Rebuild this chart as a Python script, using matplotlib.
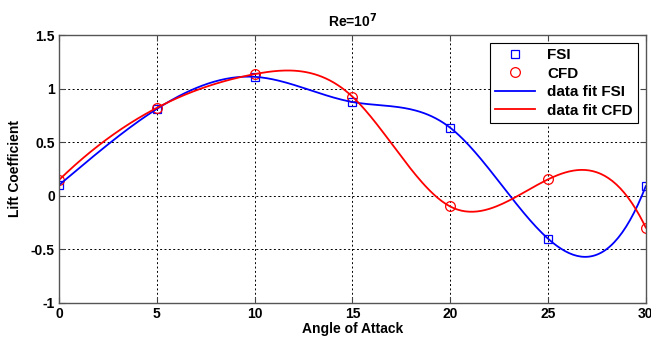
import numpy as np
import matplotlib
matplotlib.use("Agg")
import matplotlib.pyplot as plt

# angle of attack (deg) and lift coefficients
angle = [0, 5, 10, 15, 20, 25, 30]
cl_fsi = [0.10, 0.81, 1.11, 0.875, 0.635, -0.40, 0.09]
cl_cfd = [0.147, 0.82, 1.135, 0.925, -0.10, 0.153, -0.297]


def spline_not_a_knot(x, y, xq):
    """Cubic spline with not-a-knot ends (like MATLAB spline)."""
    x = np.asarray(x, float)
    y = np.asarray(y, float)
    n = len(x)
    h = np.diff(x)
    A = np.zeros((n, n))
    b = np.zeros(n)
    # interior continuity of second derivative -> equations on M (second derivs)
    for i in range(1, n - 1):
        A[i, i - 1] = h[i - 1]
        A[i, i] = 2 * (h[i - 1] + h[i])
        A[i, i + 1] = h[i]
        b[i] = 6 * ((y[i + 1] - y[i]) / h[i] - (y[i] - y[i - 1]) / h[i - 1])
    # not-a-knot: third derivative continuous at x[1] and x[n-2]
    A[0, 0] = h[1]
    A[0, 1] = -(h[0] + h[1])
    A[0, 2] = h[0]
    A[-1, -3] = h[-1]
    A[-1, -2] = -(h[-2] + h[-1])
    A[-1, -1] = h[-2]
    M = np.linalg.solve(A, b)

    idx = np.clip(np.searchsorted(x, xq) - 1, 0, n - 2)
    x0, x1 = x[idx], x[idx + 1]
    hh = x1 - x0
    t0 = x1 - xq
    t1 = xq - x0
    return (M[idx] * t0**3 / (6 * hh) + M[idx + 1] * t1**3 / (6 * hh)
            + (y[idx] / hh - M[idx] * hh / 6) * t0
            + (y[idx + 1] / hh - M[idx + 1] * hh / 6) * t1)


plt.rcParams['font.family'] = ['Liberation Sans', 'DejaVu Sans']
plt.rcParams['font.weight'] = 'bold'

fig = plt.figure(figsize=(6.51, 3.40), dpi=100)
ax = fig.add_axes([0.0906, 0.109, 0.9014, 0.788])

xf = np.linspace(0, 30, 300)
ax.plot(angle, cl_fsi, 's', color='blue', mfc='none', ms=6, mew=0.9, label='FSI')
ax.plot(angle, cl_cfd, 'o', color='red', mfc='none', ms=7, mew=0.9, label='CFD')
ax.plot(xf, spline_not_a_knot(angle, cl_fsi, xf), color='blue', lw=1.3, label='data fit FSI')
ax.plot(xf, spline_not_a_knot(angle, cl_cfd, xf), color='red', lw=1.3, label='data fit CFD')

ax.set_xlim(0, 30)
ax.set_ylim(-1, 1.5)
ax.set_xticks([0, 5, 10, 15, 20, 25, 30])
ax.set_yticks([-1, -0.5, 0, 0.5, 1, 1.5])
ax.set_yticklabels(['-1', '-0.5', '0', '0.5', '1', '1.5'])
ax.grid(True, color='black', linestyle=(0, (2, 2.5)), linewidth=0.7)
ax.tick_params(direction='in', top=True, right=True, labelsize=10, length=4,
               color='#444444', pad=3)
for s in ax.spines.values():
    s.set_color('#555555')
    s.set_linewidth(1.0)

ax.set_xlabel('Angle of Attack', fontsize=10, fontweight='bold', labelpad=1)
ax.set_ylabel('Lift Coefficient', fontsize=10, fontweight='bold', labelpad=6)
ax.set_title('Re=10$^{\\mathbf{7}}$', fontsize=10, fontweight='bold', pad=6)

leg = ax.legend(loc='upper right', fontsize=11, fancybox=False, framealpha=1,
                edgecolor='black', borderaxespad=0.5, handlelength=2.6,
                labelspacing=0.3, borderpad=0.35)
leg.get_frame().set_linewidth(0.8)

fig.savefig('out.png', dpi=100)
